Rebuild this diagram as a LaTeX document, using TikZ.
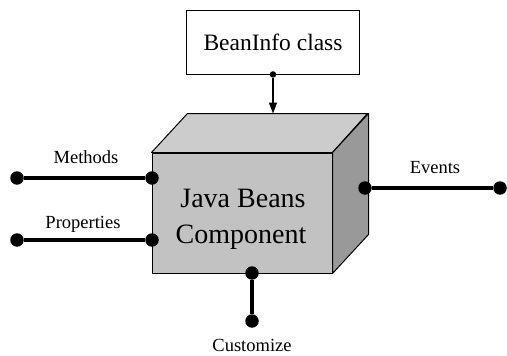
\documentclass[tikz,border=0pt]{standalone}
\usepackage{fontspec}
\setmainfont{Liberation Serif}
\usetikzlibrary{arrows.meta}
\definecolor{frontgray}{gray}{0.76}
\definecolor{topgray}{gray}{0.80}
\definecolor{sidegray}{gray}{0.60}
\begin{document}
\begin{tikzpicture}[x=1pt,y=-1pt,
  dot/.style={circle,fill=black,inner sep=0pt,minimum size=13.5pt},
  smalldot/.style={circle,fill=black,inner sep=0pt,minimum size=6.5pt},
  wire/.style={line width=3.2pt},
  lbl/.style={font=\fontsize{18.5}{20}\selectfont,inner sep=0pt,anchor=base},
  bigtxt/.style={font=\fontsize{28}{32}\selectfont,inner sep=0pt,anchor=base},
  edge/.style={draw=black,line width=1pt,line join=round}]
\useasboundingbox (0,0) rectangle (507,356);
% cube
\node[edge,fill=frontgray,minimum width=180pt,minimum height=120pt,inner sep=0pt] (front) at (242,213) {};
\filldraw[edge,fill=topgray] (front.north west) -- ++(36,-39) -- ++(180,0) -- (front.north east) -- cycle;
\filldraw[edge,fill=sidegray] (front.north east) -- ++(36,-39) -- ++(0,121) -- (front.south east) -- cycle;
\node[bigtxt] (t1) at (243,207) {Java Beans};
\node[bigtxt] (t2) at (241,243) {Component};
% BeanInfo
\node[draw,line width=0.9pt,minimum width=173pt,minimum height=64pt,inner sep=0pt,font=\fontsize{23.5}{26}\selectfont] (bi) at (273,42) {BeanInfo class};
\node[smalldot] (bid) at (bi.south) {};
\coordinate (topc) at (273,113.5);
\draw[line width=1.3pt,-{Triangle[length=11pt,width=8pt]}] (bid) -- (topc);
% Methods
\node[dot] (m1) at (17,178) {};
\node[dot] (m2) at (152,178) {};
\draw[wire] (m1) -- (m2);
\node[lbl] (ml) at (86,163) {Methods};
% Properties
\node[dot] (p1) at (17,240) {};
\node[dot] (p2) at (152,240) {};
\draw[wire] (p1) -- (p2);
\node[lbl] (pl) at (83,228) {Properties};
% Events
\node[dot] (e1) at (365,188) {};
\node[dot] (e2) at (500,188) {};
\draw[wire] (e1) -- (e2);
\node[lbl] (el) at (435,173) {Events};
% Customize
\node[dot] (c1) at (252,273) {};
\node[dot] (c2) at (252,321) {};
\draw[wire] (c1) -- (c2);
\node[lbl] (cl) at (252,351) {Customize};
\end{tikzpicture}
\end{document}
